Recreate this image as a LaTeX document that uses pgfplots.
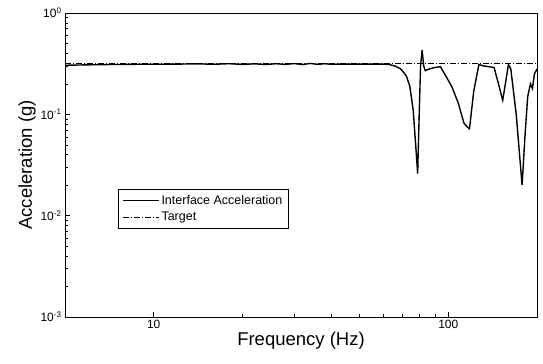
\documentclass[border=0pt]{standalone}
\usepackage{pgfplots}
\pgfplotsset{compat=1.18}
\usepackage{fontspec}
\setmainfont{Liberation Sans}
\begin{document}
\begin{tikzpicture}
\begin{axis}[
  scale only axis,
  width=472pt, height=304pt,
  xmode=log, ymode=log,
  xmin=5, xmax=200, ymin=1e-3, ymax=1,
  tick pos=left,
  tick align=inside,
  xtick={10,100}, xticklabels={10,100},
  ytick={1e-3,1e-2,1e-1,1},
  yticklabels={10\textsuperscript{-3},10\textsuperscript{-2},10\textsuperscript{-1},10\textsuperscript{0}},
  minor tick length=3pt, major tick length=5pt,
  tick label style={font=\fontsize{12}{14}\selectfont},
  label style={font=\fontsize{18.5}{21}\selectfont},
  xlabel={Frequency (Hz)}, ylabel={Acceleration (g)},
  xlabel style={yshift=4pt},
  ylabel style={yshift=-2pt},
  axis line style={line width=0.9pt},
  every tick/.style={black, line width=0.6pt},
  legend style={at={(0.112,0.421)}, anchor=north west, draw=black, line width=0.5pt,
    font=\fontsize{12.5}{15}\selectfont, inner xsep=4pt, inner ysep=4pt, row sep=2pt},
  legend image code/.code={\draw[#1] (0pt,0pt) -- (36pt,0pt);},
  legend cell align=left,
]
\addplot[black, line width=1.4pt] coordinates {
(5,0.305) (6,0.308) (7,0.31) (8,0.311) (9,0.312) (10,0.312) (12,0.313) (14,0.315)
(16,0.312) (18,0.316) (20,0.311) (22,0.315) (24,0.31) (26,0.316) (28,0.311) (30,0.317)
(32,0.31) (34,0.318) (36,0.311) (38,0.316) (40,0.312) (45,0.313) (50,0.313) (55,0.313)
(60,0.313) (63,0.31) (66,0.30) (69,0.28) (72,0.24) (74,0.19) (76,0.11) (77.5,0.05)
(78.7,0.026) (79.5,0.08) (80.5,0.3) (81.5,0.43) (82.5,0.30) (83.5,0.27) (86,0.28)
(90,0.29) (94,0.295) (98,0.24) (103,0.185) (108,0.13) (113,0.082) (116,0.075)
(118,0.072) (122,0.17) (127,0.31) (132,0.30) (143,0.29) (148,0.2) (153,0.138)
(157,0.22) (160,0.31) (163,0.28) (170,0.1) (178,0.02) (182,0.06) (186,0.15)
(190,0.2) (193,0.18) (196,0.25) (200,0.28)
};
\addlegendentry{Interface Acceleration}
\addplot[black, line width=0.5pt, dash pattern=on 6pt off 2pt on 1pt off 2pt] coordinates {
(5,0.32) (200,0.32)
};
\addlegendentry{Target}
\end{axis}
\path ([xshift=-65pt,yshift=-47pt]current axis.south west) rectangle ([xshift=6pt,yshift=13pt]current axis.north east);
\end{tikzpicture}
\end{document}
